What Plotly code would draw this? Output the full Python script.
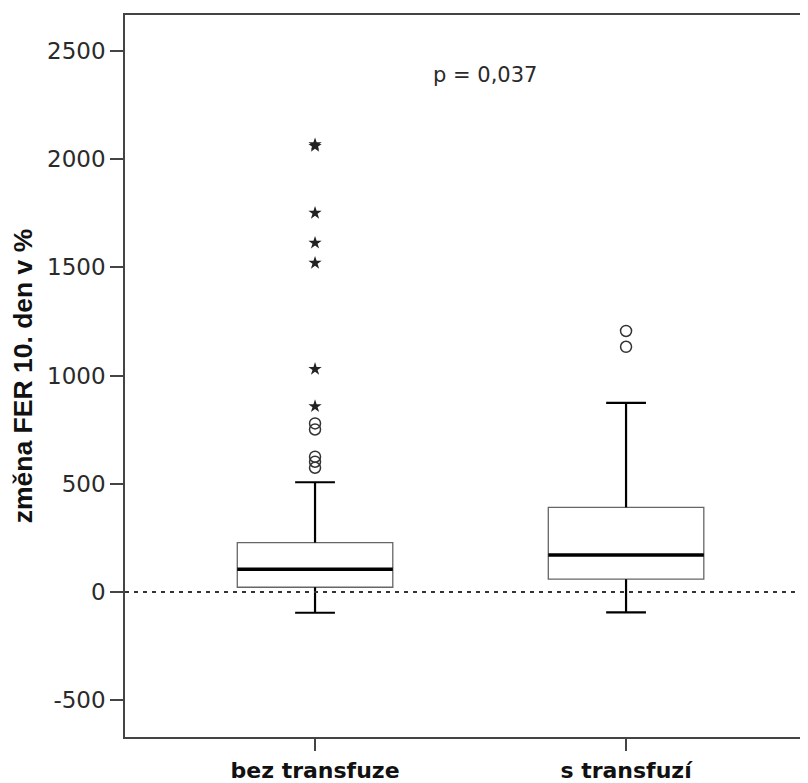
import plotly.graph_objects as go

categories = ["bez transfuze", "s transfuzí"]
q1 = [22, 59]
median = [105, 171]
q3 = [228, 391]
lower_whisker = [-96, -94]
upper_whisker = [507, 874]
circle_outliers = [[779, 751, 625, 602, 574], [1206, 1133]]
star_outliers = [[2068, 2060, 1751, 1613, 1520, 1030, 858], []]
y_ticks = [-500, 0, 500, 1000, 1500, 2000, 2500]
p_text = "p = 0,037"

box_half = 0.25
cap_half = 0.064
pos = list(range(len(categories)))
x_range = [-0.611, 1.585]

fig = go.Figure()
for i, c in enumerate(categories):
    fig.add_trace(go.Box(
        x=[pos[i]], q1=[q1[i]], median=[median[i]], q3=[q3[i]],
        lowerfence=[q1[i]], upperfence=[q3[i]],
        width=box_half * 2, whiskerwidth=0,
        fillcolor="white", line=dict(color="#666666", width=1.3),
        boxpoints=False, hoverinfo="skip", showlegend=False,
    ))
    wx = [pos[i], pos[i], None, pos[i], pos[i], None,
          pos[i] - cap_half, pos[i] + cap_half, None,
          pos[i] - cap_half, pos[i] + cap_half]
    wy = [q3[i], upper_whisker[i], None, q1[i], lower_whisker[i], None,
          upper_whisker[i], upper_whisker[i], None,
          lower_whisker[i], lower_whisker[i]]
    fig.add_trace(go.Scatter(x=wx, y=wy, mode="lines",
                             line=dict(color="black", width=2.2),
                             showlegend=False, hoverinfo="skip"))
    fig.add_trace(go.Scatter(x=[pos[i] - box_half, pos[i] + box_half],
                             y=[median[i], median[i]], mode="lines",
                             line=dict(color="black", width=3.5),
                             showlegend=False, hoverinfo="skip"))
    if circle_outliers[i]:
        fig.add_trace(go.Scatter(x=[pos[i]] * len(circle_outliers[i]), y=circle_outliers[i],
                                 mode="markers",
                                 marker=dict(symbol="circle-open", size=11,
                                             color="#333333", line=dict(width=1.5)),
                                 showlegend=False, hoverinfo="skip"))
    if star_outliers[i]:
        fig.add_trace(go.Scatter(x=[pos[i]] * len(star_outliers[i]), y=star_outliers[i],
                                 mode="markers",
                                 marker=dict(symbol="star", size=10, color="#222222",
                                             line=dict(width=0)),
                                 showlegend=False, hoverinfo="skip"))

fig.add_trace(go.Scatter(x=x_range, y=[0, 0], mode="lines",
                         line=dict(color="#333333", width=2, dash="4px,5px"),
                         showlegend=False, hoverinfo="skip"))

fig.add_annotation(x=0.547, y=2389, xref="x", yref="y", text=p_text, showarrow=False,
                   font=dict(family="DejaVu Sans, sans-serif", size=21, color="#2a2a2a"))

fig.update_layout(
    width=800, height=775,
    margin=dict(l=117, r=0, t=7, b=46),
    paper_bgcolor="white", plot_bgcolor="white",
    xaxis=dict(range=x_range, tickvals=pos, ticktext=categories, automargin=False,
               showgrid=False, zeroline=False, showline=True, mirror=True,
               linecolor="#444444", linewidth=1.5,
               ticks="outside", ticklen=12, tickcolor="#444444", tickwidth=1.5,
               ticklabelstandoff=1,
               tickfont=dict(family="DejaVu Sans, sans-serif",
                             size=22, color="#111111", weight="bold")),
    yaxis=dict(range=[-670, 2666], tickvals=y_ticks, ticktext=[str(v) for v in y_ticks],
               automargin=False,
               showgrid=False, zeroline=False, showline=True,
               linecolor="#444444", linewidth=1.5,
               ticks="outside", ticklen=13, tickcolor="#444444", tickwidth=1.5,
               tickfont=dict(family="DejaVu Sans, sans-serif", size=23, color="#2a2a2a"),
               title=dict(text="změna FER 10. den v %", standoff=11,
                          font=dict(family="Liberation Sans, Arial, sans-serif",
                                    size=26.5, color="#111111", weight="bold"))),
)

fig.write_html("out.html")
